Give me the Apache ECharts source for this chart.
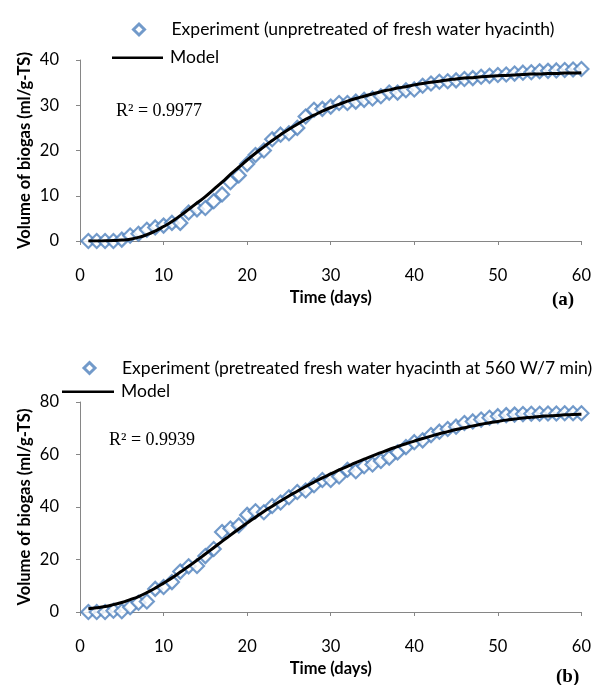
<!DOCTYPE html>
<html><head><meta charset="utf-8">
<script src="https://cdn.jsdelivr.net/npm/echarts@6/dist/echarts.min.js"></script>
<style>html,body{margin:0;padding:0;background:#fff}#c{width:594px;height:685px}</style>
</head><body><div id="c"></div>
<script>
const days = [];
for (let d = 1; d <= 60; d++) days.push(d);
const xTicks = [0, 10, 20, 30, 40, 50, 60];
const yTicksA = [0, 10, 20, 30, 40];
const yTicksB = [0, 20, 40, 60, 80];

const expA = [0,0,0,0,0.3,1.2,1.6,2.5,3,3.4,4,4,6.3,7,7.3,8.8,10.3,13,14.5,17,19,20,22.5,23.5,23.8,25,27.5,29,29.2,29.7,30.5,30.5,30.8,31.2,31.5,32,32.8,32.8,33.3,33.5,34.3,34.8,35.2,35.3,35.5,35.8,36,36.3,36.5,36.7,36.8,37,37.2,37.3,37.5,37.6,37.7,37.8,37.9,38];
const modelA = [0,0,0.05,0.1,0.2,0.4,0.8,1.4,2.2,3.2,4.3,5.6,7.0,8.4,9.8,11.4,13.0,14.7,16.3,17.9,19.4,20.8,22.2,23.5,24.7,25.8,26.9,27.8,28.7,29.5,30.2,30.9,31.5,32.0,32.5,33.0,33.4,33.8,34.1,34.5,34.8,35.1,35.3,35.6,35.8,36.0,36.1,36.3,36.4,36.5,36.6,36.7,36.8,36.9,36.9,37.0,37.0,37.1,37.1,37.2];
const expB = [0,0,0,0.5,0.3,1.8,3.5,4,8.8,9.5,11.4,15.4,17.4,17.5,21.3,24,30.5,31.8,33,37,38.4,38,40.4,41.7,43.7,45.7,46.3,48.3,50.3,50.3,51.6,54.2,53.6,55.5,56.2,57.5,58.8,60.8,62.8,64.7,65.4,67.4,68.7,69.7,70.6,72,72.6,73.3,74,74.6,75,75.2,75.4,75.5,75.5,75.6,75.6,75.7,75.7,75.7];
const modelB = [1.2,1.6,2.1,2.8,3.6,4.7,5.9,7.4,9.1,11,13,15.2,17.4,19.7,22.1,24.5,26.9,29.3,31.6,33.9,36.1,38.3,40.3,42.3,44.2,46,47.8,49.5,51.1,52.6,54.1,55.5,56.9,58.2,59.5,60.7,61.9,63,64.1,65.1,66.1,67,67.9,68.7,69.5,70.2,70.9,71.5,72.1,72.6,73.1,73.5,73.9,74.2,74.5,74.7,74.9,75.1,75.2,75.3];

const nameA = 'Experiment (unpretreated of fresh water hyacinth)';
const nameB = 'Experiment (pretreated fresh water hyacinth at 560 W/7 min)';
const modelName = 'Model';
const r2A = 'R² = 0.9977';
const r2B = 'R² = 0.9939';

const FONT = 'Lato';
const blue = '#4F81BD';
const axisGray = '#868686';

function pairs(xs, ys) { return xs.map((x, i) => [x, ys[i]]); }

function xAxis(gi) {
  return {
    type: 'value', gridIndex: gi, min: xTicks[0], max: xTicks[xTicks.length - 1], interval: 10,
    name: 'Time (days)', nameLocation: 'middle', nameGap: 48, nameMoveOverlap: false,
    nameTextStyle: { fontFamily: FONT, fontWeight: 'bold', fontSize: 16.5, color: '#000' },
    axisLine: { show: true, onZero: false, lineStyle: { color: axisGray, width: 1 } },
    axisTick: { show: true, length: 4, lineStyle: { color: axisGray } },
    axisLabel: { fontFamily: FONT, fontSize: 16.5, color: '#000', margin: 26 },
    splitLine: { show: false }
  };
}
function yAxis(gi, ticks) {
  return {
    type: 'value', gridIndex: gi, min: ticks[0], max: ticks[ticks.length - 1], interval: ticks[1] - ticks[0],
    name: 'Volume of biogas (ml/g-TS)', nameLocation: 'middle', nameGap: 47, nameRotate: 90, nameMoveOverlap: false,
    nameTextStyle: { fontFamily: FONT, fontWeight: 'bold', fontSize: 16.5, color: '#000' },
    axisLine: { show: true, lineStyle: { color: axisGray, width: 1 } },
    axisTick: { show: true, length: 4, lineStyle: { color: axisGray } },
    axisLabel: { fontFamily: FONT, fontSize: 16.5, color: '#000', margin: 21 },
    splitLine: { show: false }
  };
}
function scatter(name, gi, data) {
  return {
    name, type: 'scatter', xAxisIndex: gi, yAxisIndex: gi, data,
    symbol: 'diamond', symbolSize: 14,
    itemStyle: { color: '#fff', borderColor: blue, borderWidth: 2.2 },
    z: 2
  };
}
function line(name, gi, data) {
  return {
    name, type: 'line', xAxisIndex: gi, yAxisIndex: gi, data, smooth: true,
    showSymbol: false, symbol: 'none',
    lineStyle: { color: '#000', width: 3 }, itemStyle: { color: '#000' },
    z: 3
  };
}
const legendText = { fontFamily: FONT, fontSize: 17.5, color: '#000' };
function expLegend(name, left, top, pad) {
  return {
    left, top, padding: 0, itemWidth: 11, itemHeight: 11, selectedMode: false,
    data: [{ name, icon: 'diamond', itemStyle: { color: '#fff', borderColor: blue, borderWidth: 3 } }],
    textStyle: Object.assign({ padding: [0, 0, 0, pad] }, legendText)
  };
}
function modelLegend(left, top, width) {
  return {
    left, top, padding: 0, itemWidth: width, itemHeight: 2.5, selectedMode: false,
    data: [{ name: modelName, icon: 'rect', itemStyle: { color: '#000', borderWidth: 0 } }],
    textStyle: Object.assign({ padding: [0, 0, 0, 2] }, legendText)
  };
}

const chart = echarts.init(document.getElementById('c'), null, { renderer: 'canvas' });
chart.setOption({
  animation: false,
  backgroundColor: '#fff',
  grid: [
    { left: 80, right: 7, top: 60, height: 181 },
    { left: 80, right: 7, top: 402, height: 210 }
  ],
  xAxis: [xAxis(0), xAxis(1)],
  yAxis: [yAxis(0, yTicksA), yAxis(1, yTicksB)],
  legend: [
    expLegend(nameA, 132, 20.5, 22),
    modelLegend(112, 48.75, 51),
    expLegend(nameB, 82.5, 359, 22),
    modelLegend(62, 382.75, 52)
  ],
  graphic: [
    { type: 'text', left: 116, top: 102, style: { text: r2A, font: '18px "Liberation Serif"', fill: '#000' } },
    { type: 'text', left: 109, top: 431, style: { text: r2B, font: '18px "Liberation Serif"', fill: '#000' } },
    { type: 'text', left: 552, top: 291, style: { text: '(a)', font: 'bold 19px "Liberation Serif"', fill: '#000' } },
    { type: 'text', left: 556, top: 668, style: { text: '(b)', font: 'bold 19px "Liberation Serif"', fill: '#000' } }
  ],
  series: [
    scatter(nameA, 0, pairs(days, expA)),
    line(modelName, 0, pairs(days, modelA)),
    scatter(nameB, 1, pairs(days, expB)),
    line(modelName, 1, pairs(days, modelB))
  ]
});
</script></body></html>
